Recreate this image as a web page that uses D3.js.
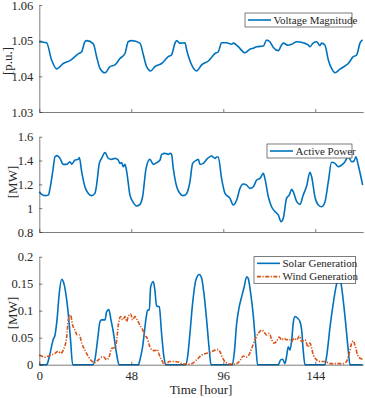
<!DOCTYPE html>
<html><head><meta charset="utf-8">
<script src="https://cdn.jsdelivr.net/npm/d3@7"></script>
<style>body{margin:0;background:#fff}svg{display:block}</style>
</head><body><svg id="c" width="365" height="398"></svg>
<script>
const xTicks = [0, 48, 96, 144];
const voltTicks = [1.03, 1.04, 1.05, 1.06];
const powerTicks = [0.8, 1, 1.2, 1.4, 1.6];
const genTicks = [0, 0.05, 0.1, 0.15, 0.2];

const voltage = [[0,1.0497],[3.8,1.0494],[6.4,1.0446],[9.0,1.0421],[12.5,1.0436],[16.0,1.0444],[20.3,1.0463],[22.1,1.0469],[23.8,1.0497],[24.7,1.0500],[28.2,1.0491],[29.9,1.0455],[31.7,1.0422],[34.3,1.0410],[36.9,1.0427],[39.5,1.0432],[42.1,1.0450],[44.7,1.0464],[46.4,1.0497],[48.2,1.0500],[52.5,1.0493],[54.3,1.0460],[56.0,1.0427],[58.1,1.0415],[60.3,1.0427],[63.8,1.0436],[67.3,1.0455],[69.0,1.0460],[70.8,1.0493],[71.7,1.0500],[73.4,1.0493],[76.0,1.0494],[76.9,1.0474],[79.5,1.0432],[82.1,1.0415],[84.7,1.0432],[88.2,1.0443],[91.7,1.0464],[93.4,1.0469],[95.1,1.0494],[97.7,1.0494],[100.3,1.0490],[101.2,1.0493],[103.8,1.0483],[107.3,1.0466],[109.9,1.0476],[111.7,1.0479],[113.4,1.0483],[116.9,1.0485],[118.6,1.0502],[120.3,1.0497],[122.1,1.0481],[124.7,1.0472],[126.4,1.0488],[127.3,1.0493],[129.9,1.0487],[131.7,1.0490],[134.3,1.0497],[137.7,1.0494],[140.3,1.0488],[141.2,1.0483],[143.0,1.0494],[144.7,1.0497],[146.4,1.0486],[147.3,1.0493],[149.0,1.0488],[150.8,1.0446],[152.5,1.0422],[154.3,1.0410],[156.9,1.0420],[159.5,1.0429],[161.2,1.0436],[163.8,1.0455],[165.6,1.0460],[167.3,1.0493],[168.7,1.0502]];

const activePower = [[0,1.138],[1.2,1.116],[3.0,1.105],[4.7,1.110],[5.6,1.166],[7.0,1.306],[8.2,1.432],[9.4,1.441],[10.8,1.418],[12.5,1.368],[14.3,1.368],[16.0,1.390],[16.9,1.370],[18.6,1.404],[20.3,1.410],[20.9,1.424],[22.1,1.306],[23.8,1.180],[25.6,1.124],[27.3,1.105],[29.0,1.124],[29.9,1.194],[31.3,1.376],[32.5,1.418],[34.3,1.466],[36.0,1.418],[37.7,1.410],[39.5,1.418],[41.2,1.404],[42.1,1.376],[43.0,1.382],[43.8,1.348],[44.7,1.368],[45.6,1.306],[47.3,1.110],[49.0,1.049],[50.8,1.018],[52.5,1.032],[53.9,1.096],[55.7,1.334],[57.7,1.410],[59.5,1.368],[61.2,1.382],[63.0,1.404],[63.8,1.452],[65.6,1.460],[67.3,1.452],[68.2,1.460],[69.0,1.452],[69.9,1.334],[71.7,1.180],[73.4,1.124],[75.1,1.105],[76.9,1.124],[78.6,1.222],[80.0,1.376],[82.1,1.404],[83.0,1.410],[83.8,1.368],[85.6,1.376],[87.3,1.410],[89.9,1.438],[91.7,1.418],[92.5,1.430],[93.4,1.430],[95.1,1.250],[96.9,1.124],[99.5,1.082],[101.2,1.027],[103.0,1.069],[104.7,1.166],[106.4,1.203],[108.2,1.194],[109.9,1.166],[111.7,1.180],[113.4,1.236],[115.1,1.250],[116.9,1.292],[117.7,1.250],[119.5,1.096],[121.2,1.012],[123.0,0.971],[124.7,0.943],[126.1,0.887],[127.3,0.915],[129.0,1.082],[130.4,1.110],[131.7,1.158],[132.5,1.138],[134.3,1.055],[136.0,1.032],[137.7,1.110],[139.5,1.186],[141.2,1.301],[142.1,1.264],[143.8,1.096],[145.6,1.027],[147.3,1.012],[149.0,1.049],[150.8,1.222],[152.5,1.385],[154.3,1.376],[156.0,1.348],[157.7,1.362],[159.5,1.390],[161.2,1.432],[163.0,1.390],[164.2,1.396],[165.2,1.432],[166.4,1.362],[168.7,1.194]];

const solar = [[0,0],[3.8,0],[4.2,0.002],[5.6,0.021],[7.3,0.047],[8.2,0.055],[9.4,0.089],[10.4,0.132],[11.7,0.158],[12.5,0.154],[13.7,0.135],[15.1,0.095],[16.3,0.046],[17.4,0],[27.8,0],[29.0,0.009],[30.4,0.046],[31.7,0.080],[32.5,0.083],[34.3,0.083],[35.1,0.098],[36.3,0.102],[37.4,0.083],[38.6,0.061],[40.3,0.021],[41.6,0],[51.7,0],[52.5,0.009],[53.9,0.033],[55.7,0.086],[56.5,0.101],[57.4,0.101],[58.1,0.144],[59.5,0.154],[60.3,0.138],[61.2,0.109],[62.6,0.107],[63.8,0.058],[65.0,0.015],[65.9,0],[76.3,0],[77.4,0.015],[78.6,0.058],[80.0,0.114],[81.7,0.157],[83.5,0.167],[84.7,0.160],[85.9,0.132],[87.3,0.083],[88.7,0.027],[89.6,0],[100.7,0],[101.7,0.021],[103.0,0.077],[104.3,0.107],[105.6,0.126],[106.9,0.144],[108.2,0.163],[109.0,0.160],[110.3,0.132],[111.7,0.089],[113.0,0.033],[113.9,0],[124.7,0],[125.9,0.009],[127.0,0.010],[128.2,0.002],[129.0,0.015],[129.9,0.033],[130.8,0.027],[131.7,0.046],[132.5,0.077],[133.4,0.089],[134.8,0.086],[136.0,0.080],[136.9,0.064],[137.7,0.027],[138.6,0],[149.0,0],[149.9,0.015],[151.7,0.070],[153.4,0.114],[154.8,0.144],[156.5,0.165],[157.7,0.144],[159.5,0.089],[161.2,0.027],[162.1,0],[168.7,0]];

const wind = [[0,0.018],[1.2,0.016],[3.0,0.014],[4.7,0.016],[6.4,0.018],[8.2,0.021],[9.9,0.025],[11.1,0.021],[12.5,0.027],[14.3,0.052],[15.1,0.083],[16.3,0.092],[17.4,0.073],[18.6,0.064],[19.8,0.055],[20.9,0.055],[22.1,0.040],[23.8,0.027],[25.6,0.015],[27.3,0.007],[29.0,0.004],[30.8,0.009],[32.5,0.014],[33.7,0.014],[35.1,0.009],[36.5,0.015],[37.7,0.030],[39.5,0.032],[40.3,0.043],[41.2,0.073],[42.4,0.089],[43.5,0.083],[44.7,0.089],[45.6,0.080],[46.4,0.089],[47.7,0.094],[48.7,0.083],[49.9,0.089],[51.1,0.083],[52.5,0.073],[53.9,0.065],[55.1,0.055],[56.3,0.049],[57.7,0.033],[59.1,0.027],[60.3,0.026],[61.6,0.028],[62.6,0.018],[63.8,0.009],[65.0,0.002],[66.4,0.002],[67.8,0.006],[69.9,0.006],[72.5,0.005],[74.8,0.001],[76.9,0.001],[79.5,0.002],[82.1,0.009],[84.7,0.018],[87.3,0.021],[89.9,0.024],[91.7,0.027],[93.4,0.028],[94.3,0.024],[95.7,0.012],[97.4,0.004],[99.5,0.001],[102.1,0.001],[103.8,0.004],[105.0,0.009],[106.4,0.016],[107.8,0.014],[109.0,0.016],[110.8,0.030],[112.5,0.046],[114.3,0.058],[116.0,0.064],[117.2,0.061],[118.6,0.055],[120.0,0.058],[121.2,0.047],[122.4,0.040],[123.8,0.043],[125.2,0.051],[126.4,0.046],[127.7,0.049],[129.0,0.046],[130.4,0.047],[131.7,0.043],[132.9,0.049],[134.3,0.046],[135.7,0.053],[136.9,0.043],[138.6,0.046],[140.3,0.033],[141.2,0.040],[143.0,0.018],[144.7,0.009],[146.4,0.006],[149.0,0.006],[151.7,0.002],[155.1,0.002],[158.6,0.002],[160.3,0.006],[161.7,0.021],[163.0,0.040],[163.8,0.044],[164.7,0.036],[166.1,0.018],[167.3,0.012],[168.7,0.010]];

const FONT = "'Liberation Serif', 'Times New Roman', serif";
const svg = d3.select("#c");
const x = d3.scaleLinear().domain([0, 169]).range([39.3, 363.2]);
const blue = "#0072BD", orange = "#D95319";
const axisCol = "#262626";

const panels = [
  {top: 5, bottom: 112, domain: [1.03, 1.06], ticks: voltTicks, fmt: d3.format(".2f"), label: "[p.u.]", labelX: 11.5, labelY: 61,
   series: [{data: voltage, color: blue, dash: null, name: "Voltage Magnitude"}],
   legend: {x0: 245, x1: 352, y0: 13, y1: 27}},
  {top: 136.7, bottom: 232, domain: [0.8, 1.6], ticks: powerTicks, fmt: d => String(+d.toFixed(1)), label: "[MW]", labelX: 16.5, labelY: 182,
   series: [{data: activePower, color: blue, dash: null, name: "Active Power"}],
   legend: {x0: 267, x1: 352, y0: 144, y1: 158}},
  {top: 256.7, bottom: 364.7, domain: [0, 0.2], ticks: genTicks, fmt: d => String(+d.toFixed(2)), label: "[MW]", labelX: 16.5, labelY: 313,
   series: [{data: solar, color: blue, dash: null, name: "Solar Generation"},
            {data: wind, color: orange, dash: "4,1.5,1.2,1.5", name: "Wind Generation"}],
   legend: {x0: 254, x1: 355.7, y0: 256.7, y1: 283.3}, xlabels: true}
];

panels.forEach(p => {
  const y = d3.scaleLinear().domain(p.domain).range([p.bottom, p.top]);
  const g = svg.append("g");
  const line = d3.line().x(d => x(d[0])).y(d => y(d[1])).curve(d3.curveMonotoneX);
  p.series.forEach(s => {
    g.append("path").datum(s.data).attr("d", line).attr("fill", "none")
      .attr("stroke", s.color).attr("stroke-width", 1.6)
      .attr("stroke-dasharray", s.dash).attr("stroke-linejoin", "round");
  });
  const ya = d3.axisLeft(y).tickValues(p.ticks).tickFormat(p.fmt).tickSizeInner(-3).tickSizeOuter(0).tickPadding(6);
  const yg = g.append("g").attr("transform", "translate(39.3,0)").call(ya);
  const xa = d3.axisBottom(x).tickValues(xTicks).tickSizeInner(-3).tickSizeOuter(0).tickPadding(6)
    .tickFormat(p.xlabels ? d3.format("d") : () => "");
  const xg = g.append("g").attr("transform", `translate(0,${p.bottom})`).call(xa);
  [yg, xg].forEach(a => {
    a.attr("font-family", null);
    a.select(".domain").attr("stroke", axisCol).attr("stroke-width", 0.6);
    a.selectAll(".tick line").attr("stroke", axisCol).attr("stroke-width", 0.6);
    a.selectAll("text").style("font-family", FONT).style("font-size", "12.5px").attr("fill", axisCol);
  });
  g.append("text").attr("transform", `translate(${p.labelX},${p.labelY}) rotate(-90)`)
    .attr("text-anchor", "middle").style("font-family", FONT).style("font-size", "13px").attr("fill", axisCol).text(p.label);
  const L = p.legend;
  g.append("rect").attr("x", L.x0).attr("y", L.y0).attr("width", L.x1 - L.x0).attr("height", L.y1 - L.y0)
    .attr("fill", "#fff").attr("stroke", axisCol).attr("stroke-width", 0.6);
  const n = p.series.length;
  const rowH = (L.y1 - L.y0) / n;
  p.series.forEach((s, i) => {
    const cy = L.y0 + rowH * (i + 0.5);
    g.append("line").attr("x1", L.x0 + 3).attr("x2", L.x0 + 26).attr("y1", cy).attr("y2", cy)
      .attr("stroke", s.color).attr("stroke-width", 1.6).attr("stroke-dasharray", s.dash);
    g.append("text").attr("x", L.x0 + 28.5).attr("y", cy + 3.8).style("font-family", FONT).style("font-size", "11px")
      .attr("fill", axisCol).text(s.name);
  });
});

svg.append("text").attr("x", 201).attr("y", 394).attr("text-anchor", "middle").style("font-family", FONT)
  .style("font-size", "13px").attr("fill", axisCol).text("Time [hour]");
</script>
</body></html>
